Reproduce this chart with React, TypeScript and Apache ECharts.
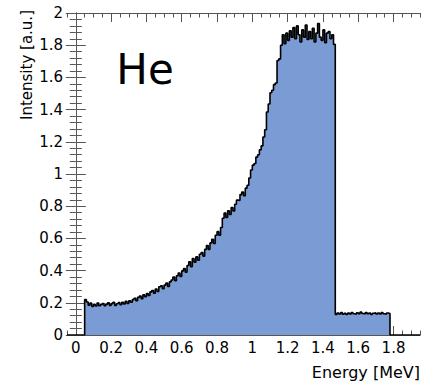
import React, { useEffect, useRef } from "react";
import * as echarts from "echarts";

// Histogram: bin width 0.01 MeV, first bin starts at 0.05 MeV
const BIN_START = 0.05;
const BIN_WIDTH = 0.01;

// 0.05 .. 0.49 MeV
const lowEnergy = [
  0.22, 0.205, 0.185, 0.198, 0.178,
  0.19, 0.18, 0.198, 0.182, 0.19, 0.196, 0.182, 0.192, 0.2, 0.184,
  0.195, 0.203, 0.184, 0.194, 0.201, 0.188, 0.203, 0.193, 0.21, 0.196,
  0.213, 0.203, 0.22, 0.228, 0.213, 0.234, 0.242, 0.225, 0.25, 0.238,
  0.258, 0.245, 0.268, 0.276, 0.26, 0.286, 0.27, 0.3, 0.305, 0.288,
];
// 0.50 .. 0.99 MeV
const midEnergy = [
  0.31, 0.322, 0.302, 0.33, 0.342, 0.36, 0.338, 0.368, 0.385, 0.364,
  0.398, 0.412, 0.39, 0.432, 0.455, 0.425, 0.475, 0.452, 0.485, 0.465,
  0.502, 0.512, 0.49, 0.532, 0.556, 0.532, 0.572, 0.594, 0.568, 0.62,
  0.642, 0.62, 0.668, 0.725, 0.758, 0.73, 0.772, 0.748, 0.792, 0.77,
  0.812, 0.838, 0.835, 0.872, 0.888, 0.865, 0.912, 0.93, 0.975, 1.025,
];
// 1.00 .. 1.46 MeV
const highEnergy = [
  1.055, 1.065, 1.105, 1.12, 1.15, 1.175, 1.23, 1.275, 1.385, 1.435,
  1.505, 1.52, 1.555, 1.565, 1.705, 1.715, 1.8, 1.865, 1.81, 1.875,
  1.83, 1.89, 1.85, 1.91, 1.84, 1.92, 1.865, 1.82, 1.895, 1.85,
  1.925, 1.835, 1.885, 1.84, 1.905, 1.82, 1.875, 1.935, 1.85, 1.83,
  1.895, 1.815, 1.875, 1.885, 1.84, 1.865, 1.805,
];
// 1.47 .. 1.77 MeV
const tailEnergy = [
  0.128, 0.136, 0.13, 0.139, 0.129, 0.135, 0.128, 0.137, 0.131, 0.14,
  0.132, 0.129, 0.138, 0.133, 0.142, 0.134, 0.13, 0.139, 0.132, 0.137,
  0.128, 0.135, 0.138, 0.13, 0.136, 0.131, 0.139, 0.132, 0.129, 0.137, 0.134,
];

const X_MIN = -0.05;
const X_MAX = 1.95;
const xMajorTicks = [0, 0.2, 0.4, 0.6, 0.8, 1, 1.2, 1.4, 1.6, 1.8];
const xMinorTicks = [
  -0.05, 0.05, 0.1, 0.15, 0.25, 0.3, 0.35, 0.45, 0.5, 0.55, 0.65, 0.7, 0.75,
  0.85, 0.9, 0.95, 1.05, 1.1, 1.15, 1.25, 1.3, 1.35, 1.45, 1.5, 1.55, 1.65,
  1.7, 1.75, 1.85, 1.9, 1.95,
];

const FONT = "DejaVu Sans";
const AXIS_COLOR = "#555";

export default function App() {
  const ref = useRef<HTMLDivElement>(null);

  useEffect(() => {
    if (!ref.current) return;
    const chart = echarts.init(ref.current, null, { renderer: "svg" });

    const values = [...lowEnergy, ...midEnergy, ...highEnergy, ...tailEnergy];
    const data: number[][] = [[X_MIN, 0]];
    values.forEach((v, i) => {
      data.push([+(BIN_START + i * BIN_WIDTH).toFixed(4), v]);
    });
    const lastEdge = +(BIN_START + values.length * BIN_WIDTH).toFixed(4);
    data.push([lastEdge, 0]);
    data.push([X_MAX, 0]);

    const xBase = {
      type: "value",
      min: X_MIN,
      max: X_MAX,
      splitLine: { show: false },
      axisLine: { show: true, onZero: false, lineStyle: { color: AXIS_COLOR, width: 1 } },
    };
    const tickStyle = { color: AXIS_COLOR, width: 1 };

    const option: any = {
      animation: false,
      grid: { left: 67, top: 13, right: 4, bottom: 49, containLabel: false },
      xAxis: [
        {
          ...xBase,
          position: "bottom",
          axisTick: { show: true, inside: true, length: 9, lineStyle: tickStyle, customValues: xMajorTicks },
          axisLabel: {
            show: true,
            customValues: xMajorTicks,
            margin: 5,
            color: "#000",
            fontFamily: FONT,
            fontSize: 15,
            formatter: (v: number) => String(+v.toFixed(2)),
          },
        },
        {
          ...xBase,
          position: "bottom",
          axisTick: { show: true, inside: true, length: 4.5, lineStyle: tickStyle, customValues: xMinorTicks },
          axisLabel: { show: false },
        },
        {
          ...xBase,
          position: "top",
          axisTick: { show: true, inside: true, length: 9, lineStyle: tickStyle, customValues: xMajorTicks },
          axisLabel: { show: false },
        },
        {
          ...xBase,
          position: "top",
          axisTick: { show: true, inside: true, length: 4.5, lineStyle: tickStyle, customValues: xMinorTicks },
          axisLabel: { show: false },
        },
      ],
      yAxis: [
        {
          type: "value",
          position: "left",
          min: 0,
          max: 2,
          interval: 0.2,
          splitLine: { show: false },
          axisLine: { show: true, lineStyle: { color: AXIS_COLOR, width: 1 } },
          axisTick: { show: true, inside: true, length: 10, lineStyle: tickStyle },
          minorTick: { show: true, splitNumber: 5, length: 6, lineStyle: tickStyle },
          axisLabel: {
            margin: 4,
            color: "#000",
            fontFamily: FONT,
            fontSize: 15,
            formatter: (v: number) => String(+v.toFixed(2)),
          },
        },
        {
          type: "value",
          position: "right",
          min: 0,
          max: 2,
          interval: 0.2,
          splitLine: { show: false },
          axisLine: { show: true, lineStyle: { color: AXIS_COLOR, width: 1 } },
          axisTick: { show: true, inside: true, length: 10, lineStyle: tickStyle },
          minorTick: { show: true, splitNumber: 5, length: 6, lineStyle: tickStyle },
          axisLabel: { show: false },
        },
      ],
      series: [
        {
          type: "line",
          xAxisIndex: 0,
          yAxisIndex: 0,
          step: "end",
          symbol: "none",
          data,
          lineStyle: { color: "#000", width: 1.6 },
          areaStyle: { color: "#7a9bd3", opacity: 1 },
        },
      ],
      graphic: [
        {
          type: "text",
          x: 145,
          y: 69,
          style: {
            text: "He",
            fill: "#000",
            font: `42px "${FONT}"`,
            align: "center",
            verticalAlign: "middle",
          },
        },
        {
          type: "text",
          x: 420,
          y: 372,
          style: {
            text: "Energy [MeV]",
            fill: "#000",
            font: `16px "${FONT}"`,
            align: "right",
            verticalAlign: "middle",
          },
        },
        {
          type: "text",
          x: 26.5,
          y: 10,
          rotation: Math.PI / 2,
          style: {
            text: "Intensity [a.u.]",
            fill: "#000",
            font: `15px "${FONT}"`,
            align: "right",
            verticalAlign: "middle",
          },
        },
      ],
    };

    chart.setOption(option);
    return () => chart.dispose();
  }, []);

  return (
    <div
      ref={ref}
      style={{ position: "fixed", left: 0, top: 0, width: 424, height: 384, background: "#fff" }}
    />
  );
}
